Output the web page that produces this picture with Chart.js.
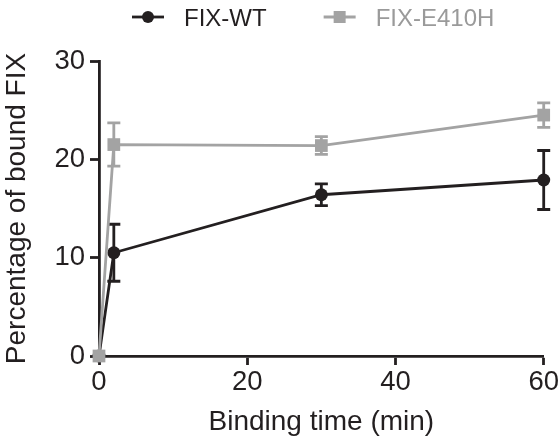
<!DOCTYPE html>
<html>
<head>
<meta charset="utf-8">
<script src="https://cdn.jsdelivr.net/npm/chart.js@4/dist/chart.umd.min.js"></script>
<style>
  html, body { margin: 0; padding: 0; background: #fff; }
  #wrap { width: 560px; height: 439px; }
</style>
</head>
<body>
<div id="wrap"><canvas id="chart"></canvas></div>
<script>
// binding time points (min) and percentage of bound FIX, mean +/- error
const times = [0, 2, 30, 60];
const wtMean = [0, 10.5, 16.4, 17.9];
const wtErr = [0, 2.9, 1.1, 3.0];
const e410hMean = [0, 21.5, 21.4, 24.5];
const e410hErr = [0, 2.2, 0.9, 1.25];
const xTicks = [0, 20, 40, 60];
const yTicks = [0, 10, 20, 30];

const INK = "#231f20";
const GREY = "#a3a3a3";
const FONT = "'Liberation Sans', Arial, sans-serif";

// legend drawn by hand: line + marker, then label
const legendLabels = [
  { text: "FIX-WT", color: INK, textColor: INK, shape: "circle" },
  { text: "FIX-E410H", color: GREY, textColor: "#9a9a9a", shape: "rect" },
];

const manualLegend = {
  id: "manualLegend",
  afterDraw(chart) {
    const ctx = chart.ctx;
    ctx.save();
    ctx.font = "24px " + FONT;
    ctx.textBaseline = "alphabetic";
    let x = 132;
    const y = 17;
    legendLabels.forEach((item) => {
      ctx.strokeStyle = item.color;
      ctx.fillStyle = item.color;
      ctx.lineWidth = 2.8;
      ctx.beginPath();
      ctx.moveTo(x, y);
      ctx.lineTo(x + 32, y);
      ctx.stroke();
      if (item.shape === "circle") {
        ctx.beginPath();
        ctx.arc(x + 16, y, 6, 0, Math.PI * 2);
        ctx.fill();
      } else {
        ctx.fillRect(x + 10, y - 6, 12, 12);
      }
      x += 32 + 20;
      ctx.fillStyle = item.textColor;
      ctx.fillText(item.text, x, 26);
      x += ctx.measureText(item.text).width + 57;
    });
    ctx.restore();
  },
};

const errorBars = {
  id: "errorBars",
  beforeDatasetsDraw(chart) {
    const { ctx } = chart;
    const x = chart.scales.x;
    const y = chart.scales.y;
    chart.data.datasets.forEach((ds, i) => {
      if (!chart.isDatasetVisible(i)) return;
      ctx.save();
      ctx.strokeStyle = ds.borderColor;
      ctx.lineWidth = 2.8;
      ds.data.forEach((p, j) => {
        const e = ds.errors[j];
        if (!e) return;
        const px = x.getPixelForValue(p.x);
        const top = y.getPixelForValue(p.y + e);
        const bot = y.getPixelForValue(p.y - e);
        const cap = 6.5;
        ctx.beginPath();
        ctx.moveTo(px, top);
        ctx.lineTo(px, bot);
        ctx.moveTo(px - cap, top);
        ctx.lineTo(px + cap, top);
        ctx.moveTo(px - cap, bot);
        ctx.lineTo(px + cap, bot);
        ctx.stroke();
      });
      ctx.restore();
    });
  },
};

// grey first so it is drawn on top of the black series
const datasets = [
  {
    label: "FIX-E410H",
    data: times.map((t, i) => ({ x: t, y: e410hMean[i] })),
    errors: e410hErr,
    borderColor: GREY,
    backgroundColor: GREY,
    borderWidth: 2.8,
    pointStyle: "rect",
    pointRadius: 9,
    pointHoverRadius: 9,
    pointBorderWidth: 0,
    tension: 0,
    clip: false,
  },
  {
    label: "FIX-WT",
    data: times.map((t, i) => ({ x: t, y: wtMean[i] })),
    errors: wtErr,
    borderColor: INK,
    backgroundColor: INK,
    borderWidth: 2.8,
    pointStyle: "circle",
    pointRadius: 6.5,
    pointHoverRadius: 6.5,
    pointBorderWidth: 0,
    tension: 0,
    clip: false,
  },
];

const axisGrid = {
  display: true,
  drawOnChartArea: false,
  drawTicks: true,
  tickLength: 9,
  tickWidth: 2.8,
  tickColor: INK,
};

new Chart(document.getElementById("chart").getContext("2d"), {
  type: "line",
  data: { datasets },
  options: {
    responsive: true,
    maintainAspectRatio: false,
    animation: false,
    events: [],
    layout: { padding: { top: 61, right: 16, bottom: 0, left: 0 } },
    plugins: {
      tooltip: { enabled: false },
      legend: { display: false },
    },
    scales: {
      x: {
        type: "linear",
        min: 0,
        max: 60,
        afterBuildTicks: (s) => { s.ticks = xTicks.map((v) => ({ value: v })); },
        afterFit: (s) => { s.height = 83; },
        grid: axisGrid,
        border: { display: true, color: INK, width: 2.8 },
        ticks: { color: INK, font: { family: FONT, size: 27.5 }, padding: 1, maxRotation: 0 },
        title: { display: true, text: "Binding time (min)", color: INK, font: { family: FONT, size: 28 }, padding: { top: 0, bottom: 0 } },
      },
      y: {
        type: "linear",
        min: 0,
        max: 30,
        afterBuildTicks: (s) => { s.ticks = yTicks.map((v) => ({ value: v })); },
        afterFit: (s) => { s.width = 99; },
        grid: axisGrid,
        border: { display: true, color: INK, width: 2.8 },
        ticks: { color: INK, font: { family: FONT, size: 27.5 }, padding: 5 },
        title: { display: true, text: "Percentage of bound FIX", color: INK, font: { family: FONT, size: 28 }, padding: { top: 0, bottom: 0 } },
      },
    },
  },
  plugins: [errorBars, manualLegend],
});
</script>
</body>
</html>
